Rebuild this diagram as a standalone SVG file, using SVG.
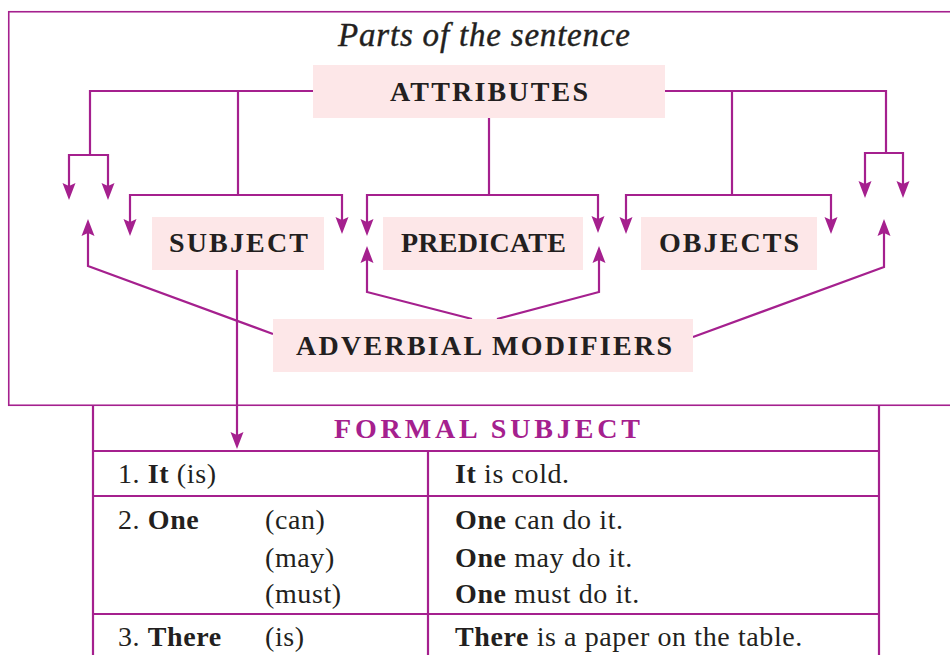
<svg xmlns="http://www.w3.org/2000/svg" width="950" height="655" viewBox="0 0 950 655">
<defs>
<style>
.ln{fill:none;stroke:#a5208e;stroke-width:2.2}
.ar{marker-end:url(#ah)}
.ar2{marker-start:url(#ah);marker-end:url(#ah)}
.box{fill:#fde7e8}
.lbl{font-family:"Liberation Serif",serif;font-weight:bold;font-size:28px;fill:#231f20}
.tt{font-family:"Liberation Serif",serif;font-size:28px;fill:#231f20;letter-spacing:0.6px}
.b{font-weight:bold}
</style>
<marker id="ah" viewBox="-10 -7 19 14" markerWidth="19" markerHeight="14" refX="0" refY="0" orient="auto-start-reverse" markerUnits="userSpaceOnUse">
<path d="M8,0 L-9,-6.5 L-6,0 L-9,6.5 Z" fill="#a5208e"/>
</marker>
</defs>
<rect width="950" height="655" fill="#ffffff"/>
<rect x="8.75" y="11.75" width="960" height="393.5" fill="none" stroke="#a5208e" stroke-width="1.6"/>
<text x="338" y="46" font-family="'Liberation Serif',serif" font-style="italic" font-size="33" fill="#231f20" stroke="#231f20" stroke-width="0.4" textLength="292" lengthAdjust="spacing">Parts of the sentence</text>

<g id="connectors">
<path class="ln" d="M313,91 H90 V155"/>
<path class="ln ar2" d="M69,192 V155 H108 V192"/>
<path class="ln" d="M238,91 V195"/>
<path class="ln ar2" d="M130,228 V195 H342 V226"/>
<path class="ln" d="M489,118 V195"/>
<path class="ln ar2" d="M367,228 V195 H598 V225"/>
<path class="ln" d="M665,91 H886 V153"/>
<path class="ln" d="M732,91 V195"/>
<path class="ln ar2" d="M626,226 V195 H831 V226"/>
<path class="ln ar2" d="M865,190 V153 H903 V190"/>
<path class="ln ar" d="M273,334 L88,266 V227"/>
<path class="ln ar" d="M472,319 L367,292 V254"/>
<path class="ln ar" d="M497,319 L599,292 V254"/>
<path class="ln ar" d="M693,337 L884,267 V227"/>
<path class="ln ar" d="M237,270 V441"/>
</g>

<g id="attributes">
<rect class="box" x="313" y="65" width="352" height="53"/>
<text class="lbl" x="390" y="101" textLength="198" lengthAdjust="spacing">ATTRIBUTES</text>
</g>
<g id="subject">
<rect class="box" x="152" y="217" width="172" height="53"/>
<text class="lbl" x="169" y="252" textLength="139" lengthAdjust="spacing">SUBJECT</text>
</g>
<g id="predicate">
<rect class="box" x="383" y="217" width="200" height="53"/>
<text class="lbl" x="401" y="252" textLength="165" lengthAdjust="spacing">PREDICATE</text>
</g>
<g id="objects">
<rect class="box" x="641" y="217" width="176" height="53"/>
<text class="lbl" x="659" y="252" textLength="140" lengthAdjust="spacing">OBJECTS</text>
</g>
<g id="adverbial-modifiers">
<rect class="box" x="273" y="319" width="420" height="53"/>
<text class="lbl" x="296" y="355" textLength="376" lengthAdjust="spacing">ADVERBIAL MODIFIERS</text>
</g>

<g id="formal-subject-table">
<path class="ln" d="M93,405 V660 M879,405 V660 M93,451 H879 M93,496 H879 M93,614 H879 M428,451 V660"/>
<text class="lbl" x="334" y="438" style="fill:#a5208e" textLength="306" lengthAdjust="spacing">FORMAL SUBJECT</text>
<text class="tt" x="118" y="483">1. <tspan class="b">It</tspan> (is)</text>
<text class="tt" x="455" y="483"><tspan class="b">It</tspan> is cold.</text>
<text class="tt" x="118" y="529">2. <tspan class="b">One</tspan></text>
<text class="tt" x="265" y="529">(can)</text>
<text class="tt" x="265" y="567">(may)</text>
<text class="tt" x="265" y="603">(must)</text>
<text class="tt" x="455" y="529"><tspan class="b">One</tspan> can do it.</text>
<text class="tt" x="455" y="567"><tspan class="b">One</tspan> may do it.</text>
<text class="tt" x="455" y="603"><tspan class="b">One</tspan> must do it.</text>
<text class="tt" x="118" y="646">3. <tspan class="b">There</tspan></text>
<text class="tt" x="265" y="646">(is)</text>
<text class="tt" x="455" y="646"><tspan class="b">There</tspan> is a paper on the table.</text>
</g>
</svg>
